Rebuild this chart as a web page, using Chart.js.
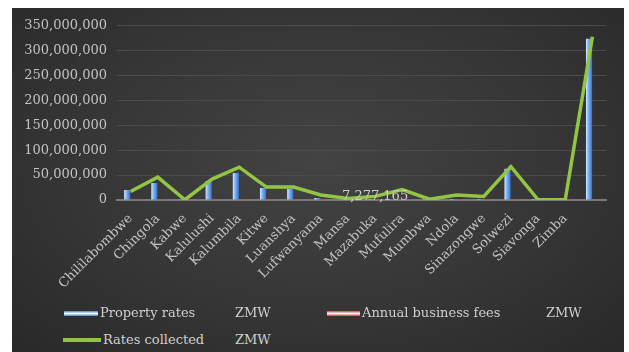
<!DOCTYPE html>
<html>
<head>
<meta charset="utf-8">
<script src="https://cdn.jsdelivr.net/npm/chart.js@4"></script>
<style>
  html, body { margin: 0; padding: 0; background: #ffffff; }
  body { width: 629px; height: 352px; position: relative; overflow: hidden; }
  #frame {
    position: absolute; left: 12px; top: 8px; width: 612px; height: 344px;
    background: radial-gradient(ellipse at 50% 45%, #434343 0%, #363636 55%, #292929 100%);
  }
  #chartBox { position: absolute; left: 0; top: 0; width: 612px; height: 300px; }
  .legend { position: absolute; font-family: 'DejaVu Serif', serif; font-size: 13px; color: #cfcfcf; line-height: 16px; white-space: nowrap; }
  .swatch { position: absolute; }
</style>
</head>
<body>
<div id="frame">
  <div id="chartBox"><canvas id="ratesChart"></canvas></div>
  <div id="legendBox"></div>
</div>
<script>
const categories = ['Chililabombwe', 'Chingola', 'Kabwe', 'Kalulushi', 'Kalumbila', 'Kitwe', 'Luanshya',
  'Lufwanyama', 'Mansa', 'Mazabuka', 'Mufulira', 'Mumbwa', 'Ndola', 'Sinazongwe', 'Solwezi',
  'Siavonga', 'Zimba', ''];
const propertyRates = [20000000, 34000000, 300000, 38000000, 54000000, 24000000, 22000000,
  4000000, 1000000, 2000000, 1000000, 500000, 2000000, 2000000, 63000000,
  200000, 200000, 324000000];
const businessFees = [150000, 200000, 50000, 150000, 200000, 250000, 100000,
  50000, 50000, 100000, 100000, 50000, 200000, 50000, 200000,
  50000, 50000, 300000];
const ratesCollected = [17000000, 46000000, 500000, 42000000, 66000000, 26000000, 26000000,
  10000000, 3000000, 7277165, 21000000, 1500000, 10000000, 7000000, 67000000,
  500000, 500000, 328000000];
const seriesNames = ['Property rates', 'Annual business fees', 'Rates collected'];
const unitLabel = 'ZMW';
const labelledIndex = 9;

const tickColor = '#c2c2c2';
const tickFont = { family: 'DejaVu Serif', size: 13 };

function blueBar(context) {
    const el = context.element;
    if (!el || el.x == null || !el.width) return '#4a8fe0';
    const g = context.chart.ctx.createLinearGradient(el.x - el.width / 2, 0, el.x + el.width / 2, 0);
    g.addColorStop(0, '#d9ebff');
    g.addColorStop(0.35, '#86b8f2');
    g.addColorStop(1, '#2f72d6');
    return g;
}

// Data label on the Mazabuka point
const pointLabel = {
    id: 'pointLabel',
    afterDatasetsDraw(chart) {
        const meta = chart.getDatasetMeta(2);
        const pt = meta.data[labelledIndex];
        if (!pt) return;
        const c = chart.ctx;
        c.save();
        c.font = '13px "DejaVu Serif"';
        c.fillStyle = '#cccccc';
        c.textAlign = 'center';
        c.textBaseline = 'middle';
        c.fillText(ratesCollected[labelledIndex].toLocaleString('en-US'), pt.x, pt.y);
        c.restore();
    }
};

const ctx = document.getElementById('ratesChart').getContext('2d');
const ratesChart = new Chart(ctx, {
    type: 'bar',
    data: {
        labels: categories,
        datasets: [
            {
                label: seriesNames[0],
                data: propertyRates,
                backgroundColor: blueBar,
                categoryPercentage: 0.5,
                barPercentage: 0.9,
                order: 2
            },
            {
                label: seriesNames[1],
                data: businessFees,
                backgroundColor: '#d9403a',
                categoryPercentage: 0.5,
                barPercentage: 0.9,
                order: 2
            },
            {
                type: 'line',
                label: seriesNames[2],
                data: ratesCollected,
                borderColor: '#93c544',
                borderWidth: 3.5,
                pointRadius: 0,
                tension: 0,
                order: 1
            }
        ]
    },
    options: {
        responsive: true,
        maintainAspectRatio: false,
        animation: false,
        layout: { padding: { top: 16, right: 18, left: 0, bottom: 0 } },
        plugins: {
            legend: { display: false },
            tooltip: { enabled: false }
        },
        scales: {
            x: {
                afterFit: function(scale) { scale.height = 108; },
                grid: { display: false, drawTicks: false },
                border: { display: true, color: '#7a7a7a', width: 2 },
                ticks: {
                    color: tickColor,
                    font: tickFont,
                    minRotation: 45,
                    maxRotation: 45,
                    autoSkip: false,
                    padding: 11
                }
            },
            y: {
                min: 0,
                max: 350000000,
                afterFit: function(scale) { scale.width = 105; },
                grid: { color: '#4b4b4b', drawTicks: false },
                border: { display: false },
                ticks: {
                    stepSize: 50000000,
                    color: tickColor,
                    font: tickFont,
                    padding: 10,
                    callback: function(v) { return Number(v).toLocaleString('en-US'); }
                }
            }
        }
    },
    plugins: [pointLabel]
});
ratesChart.update();

// Legend drawn as html below the canvas (positions relative to the dark frame)
const legendItems = [
    { y: 297, sw: 'linear-gradient(#3b7fd6, #ffffff 50%, #3b7fd6)', sh: 5, sx: 52, swid: 34, ux: 223 },
    { y: 297, sw: 'linear-gradient(#d43a33, #ffffff 50%, #d43a33)', sh: 5, sx: 315, swid: 33, ux: 534 },
    { y: 324, sw: '#93c544', sh: 4, sx: 51, swid: 38, ux: 223 }
];
const legendBox = document.getElementById('legendBox');
legendItems.forEach(function(item, i) {
    const sw = document.createElement('div');
    sw.className = 'swatch';
    sw.style.left = item.sx + 'px';
    sw.style.top = (item.y + 8 - item.sh / 2) + 'px';
    sw.style.width = item.swid + 'px';
    sw.style.height = item.sh + 'px';
    sw.style.background = item.sw;
    legendBox.appendChild(sw);

    const name = document.createElement('div');
    name.className = 'legend';
    name.style.left = (item.sx + item.swid + 2) + 'px';
    name.style.top = item.y + 'px';
    name.textContent = seriesNames[i];
    legendBox.appendChild(name);

    const unit = document.createElement('div');
    unit.className = 'legend';
    unit.style.left = item.ux + 'px';
    unit.style.top = item.y + 'px';
    unit.textContent = unitLabel;
    legendBox.appendChild(unit);
});
</script>
</body>
</html>
